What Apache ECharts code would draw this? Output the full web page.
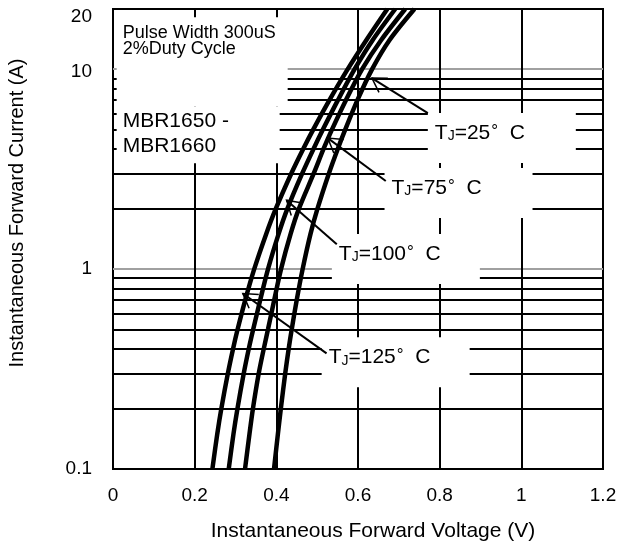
<!DOCTYPE html>
<html><head><meta charset="utf-8">
<script src="https://cdn.jsdelivr.net/npm/echarts@6/dist/echarts.min.js"></script>
<style>html,body{margin:0;padding:0;background:#fff}#c{width:622px;height:542px}</style>
</head><body><div id="c"></div>
<script>
// ---- data ----
const currents = [0.1, 0.15, 0.2, 0.3, 0.4, 0.5, 0.7, 1, 1.5, 2, 3, 4, 5, 7, 10, 14, 20];
const vf125 = [0.2434, 0.2554, 0.2652, 0.2812, 0.2941, 0.3052, 0.3238, 0.3458, 0.3752, 0.3985, 0.4364, 0.4661, 0.4906, 0.5300, 0.5748, 0.6206, 0.6718];
const vf100 = [0.2834, 0.2951, 0.3047, 0.3201, 0.3326, 0.3434, 0.3605, 0.3796, 0.4056, 0.4269, 0.4631, 0.4913, 0.5143, 0.5508, 0.5917, 0.6361, 0.6912];
const vf75  = [0.3233, 0.3343, 0.3426, 0.3568, 0.3693, 0.3796, 0.3948, 0.4115, 0.4350, 0.4551, 0.4913, 0.5158, 0.5364, 0.5704, 0.6101, 0.6569, 0.7157];
const vf25  = [0.3943, 0.4039, 0.4110, 0.4217, 0.4303, 0.4377, 0.4499, 0.4644, 0.4837, 0.5006, 0.5285, 0.5506, 0.5689, 0.5986, 0.6346, 0.6774, 0.7382];

const xGrid = [0.2, 0.4, 0.6, 0.8, 1.0];
const yGridMinor = [0.2, 0.3, 0.4, 0.5, 0.6, 0.7, 0.8, 0.9, 2, 3, 4, 5, 6, 7, 8, 9];
const yGridMajor = [1, 10];
const yLabels = [0.1, 1, 10, 20];

const tjNames = ['125', '100', '75', '25'];
const arrowTips  = [[0.318, 0.755], [0.425, 2.21], [0.526, 4.52], [0.634, 9.03]];
const arrowTails = [[0.523, 0.379], [0.548, 1.33], [0.668, 2.76], [0.771, 6.03]];
const tjBoxCorners = [[0.511, 0.456], [0.536, 1.496], [0.665, 3.20], [0.771, 6.03]];
const noteCorners = [[0.009, 18.2], [0.009, 6.53]];
const noteTexts = [['Pulse Width 300uS', '2%Duty Cycle'], ['MBR1650 -', 'MBR1660']];

// ---- chart ----
const F = "'Liberation Sans', Arial, sans-serif";
const chart = echarts.init(document.getElementById('c'), null, {renderer: 'canvas'});

function pairs(vs) { return vs.map((v, i) => [v, currents[i]]); }
function curve(name, vs) {
  return {
    name, type: 'line', data: pairs(vs), showSymbol: false, smooth: 0.3, z: 10,
    lineStyle: {color: '#000', width: 4.5}, silent: true
  };
}

const gridLines = [];
yGridMinor.forEach(v => gridLines.push({yAxis: v, lineStyle: {color: '#000'}}));
yGridMajor.forEach(v => gridLines.push({yAxis: v, lineStyle: {color: '#a0a0a0'}}));
xGrid.forEach(v => gridLines.push({xAxis: v, lineStyle: {color: '#000'}}));

const option = {
  animation: false,
  backgroundColor: '#fff',
  grid: {left: 113, right: 19, top: 9, bottom: 73, show: true, borderColor: '#000', borderWidth: 2,
    backgroundColor: '#fff', containLabel: false, outerBoundsMode: 'none'},
  xAxis: {
    type: 'value', min: 0, max: 1.2, interval: 0.2,
    axisLine: {show: false}, axisTick: {show: false}, splitLine: {show: false},
    axisLabel: {fontFamily: F, fontSize: 19, color: '#000', margin: 17},
    name: 'Instantaneous Forward Voltage (V)', nameLocation: 'middle', nameGap: 52,
    nameTextStyle: {fontFamily: F, fontSize: 21, color: '#000', padding: [0, 0, 0, 30]}
  },
  yAxis: {
    type: 'log', logBase: 10, min: 0.1, max: 20,
    axisLine: {show: false}, axisTick: {show: false}, splitLine: {show: false},
    axisLabel: {
      fontFamily: F, fontSize: 19, color: '#000', margin: 21,
      customValues: yLabels, showMaxLabel: true, showMinLabel: true,
      formatter: v => (Math.abs(v - 20) < 1e-6 ? '{top|20}' : (Math.abs(v - 10) < 1e-6 ? '{mid|10}' : String(+v.toPrecision(6)))),
      rich: {
        top: {fontFamily: F, fontSize: 19, color: '#000', padding: [16, 0, 0, 0]},
        mid: {fontFamily: F, fontSize: 19, color: '#000', padding: [5, 0, 0, 0]}
      }
    },
    name: 'Instantaneous Forward Current (A)', nameLocation: 'middle', nameGap: 86,
    nameTextStyle: {fontFamily: F, fontSize: 20, color: '#000', padding: [0, 0, 0, 52]}
  },
  series: [
    {
      name: 'grid', type: 'line', data: [], z: 1, silent: true,
      markLine: {silent: true, symbol: 'none', label: {show: false}, animation: false,
        lineStyle: {width: 2, type: 'solid'}, data: gridLines}
    },
    curve('TJ=125', vf125),
    curve('TJ=100', vf100),
    curve('TJ=75', vf75),
    curve('TJ=25', vf25)
  ]
};
chart.setOption(option);

// ---- annotations (positioned from data coordinates) ----
const px = p => chart.convertToPixel({gridIndex: 0}, p);
const g = [];
const richTJ = {
  t: {fontFamily: F, fontSize: 21, fill: '#000'},
  j: {fontFamily: F, fontSize: 14, fill: '#000', verticalAlign: 'bottom', padding: [6, 0, 0, 0]},
  d: {fontFamily: F, fontSize: 17, fill: '#000', verticalAlign: 'top', padding: [0, 0, 4, 1]}
};
noteCorners.forEach((c, k) => {
  const p = px(c);
  const w = k === 0 ? 171 : 163, h = k === 0 ? 89 : 57;
  g.push({type: 'rect', z: 5, silent: true, shape: {x: p[0], y: p[1], width: w, height: h}, style: {fill: '#fff'}});
  const fs = k === 0 ? 18 : 21, lh = k === 0 ? 16 : 25, y0 = k === 0 ? 16 : 15;
  noteTexts[k].forEach((t, i) => g.push({type: 'text', z: 6, silent: true,
    style: {text: t, x: p[0] + 6, y: p[1] + y0 + i * lh, fontFamily: F, fontSize: fs, fill: '#000', verticalAlign: 'middle'}}));
});
tjNames.forEach((n, k) => {
  const b = px(tjBoxCorners[k]);
  g.push({type: 'rect', z: 5, silent: true, shape: {x: b[0], y: b[1], width: 148, height: 50}, style: {fill: '#fff'}});
  g.push({type: 'text', z: 6, silent: true,
    style: {text: '{t|T}{j|J}{t|=' + n + '}{d|°}{t|  C}', rich: richTJ, x: b[0] + 7, y: b[1] + 20, verticalAlign: 'middle'}});
  const tip = px(arrowTips[k]), tail = px(arrowTails[k]);
  g.push({type: 'line', z: 12, silent: true, shape: {x1: tail[0], y1: tail[1], x2: tip[0], y2: tip[1]}, style: {stroke: '#000', lineWidth: 2}});
  const ang = Math.atan2(tail[1] - tip[1], tail[0] - tip[0]);
  const L = 16, a = 0.55;
  const p1 = [tip[0] + L * Math.cos(ang - a), tip[1] + L * Math.sin(ang - a)];
  const p2 = [tip[0] + L * Math.cos(ang + a), tip[1] + L * Math.sin(ang + a)];
  g.push({type: 'polyline', z: 12, silent: true, shape: {points: [p1, tip, p2]}, style: {stroke: '#000', lineWidth: 1.5, fill: null}});
});
chart.setOption({graphic: {elements: g}});
</script>
</body></html>
